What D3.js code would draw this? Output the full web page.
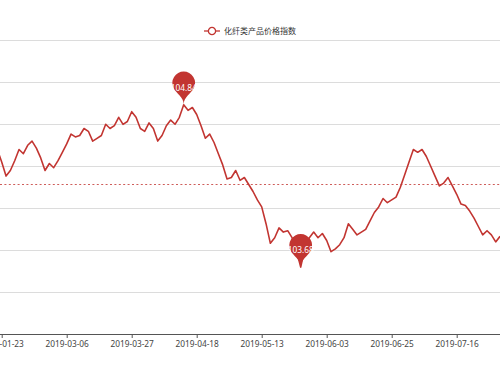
<!DOCTYPE html>
<html>
<head>
<meta charset="utf-8">
<script src="https://cdn.jsdelivr.net/npm/d3@7/dist/d3.min.js"></script>
<style>
  html, body { margin: 0; padding: 0; background: #fff; }
  svg { display: block; }
</style>
</head>
<body>
<div id="chart"></div>
<script>
// series name (legend)
var seriesName = "化纤类产品价格指数";

// daily index values (visible window only)
var values = [
  104.52, 104.43, 104.33, 104.37, 104.44, 104.52, 104.49, 104.55, 104.58, 104.53,
  104.46, 104.37, 104.42, 104.39, 104.44, 104.50, 104.56, 104.63, 104.61, 104.62,
  104.67, 104.65, 104.58, 104.60, 104.62, 104.70, 104.67, 104.69, 104.75, 104.70,
  104.72, 104.79, 104.75, 104.67, 104.65, 104.71, 104.67, 104.58, 104.62, 104.69,
  104.73, 104.70, 104.75, 104.84, 104.80, 104.82, 104.77, 104.69, 104.60, 104.63,
  104.57, 104.49, 104.41, 104.31, 104.32, 104.37, 104.30, 104.32, 104.27, 104.22,
  104.16, 104.11, 103.99, 103.85, 103.89, 103.96, 103.93, 103.94, 103.89, 103.80,
  103.68, 103.82, 103.89, 103.93, 103.89, 103.92, 103.87, 103.79, 103.81, 103.84,
  103.89, 103.99, 103.95, 103.91, 103.93, 103.95, 104.01, 104.07, 104.11, 104.17,
  104.14, 104.16, 104.18, 104.25, 104.34, 104.43, 104.52, 104.50, 104.52, 104.47,
  104.40, 104.33, 104.26, 104.28, 104.32, 104.26, 104.20, 104.13, 104.12, 104.08,
  104.03, 103.97, 103.91, 103.94, 103.91, 103.86, 103.90
];

// x-axis labels and the index of the point each one sits on
var tickLabels = ["2019-01-23", "2019-03-06", "2019-03-27", "2019-04-18",
                  "2019-05-13", "2019-06-03", "2019-06-25", "2019-07-16"];
var tickIndex = [1, 16, 31, 46, 61, 76, 91, 106];

// y-axis split values (labels are outside the visible area)
var yTicks = [103.2, 103.5, 103.8, 104.1, 104.4, 104.7, 105.0, 105.3];

// average mark line value
var avgValue = 104.27;

var W = 500, H = 375;
var red = "#c23531";
var font = "'Noto Sans', 'Microsoft YaHei', sans-serif";

var svg = d3.select("#chart").append("svg")
    .attr("width", W)
    .attr("height", H);

// scales: the plot area runs past both edges of the window
var x = d3.scaleLinear()
    .domain([tickIndex[0], tickIndex[tickIndex.length - 1]])
    .range([1.7, 456.7]);

var y = d3.scaleLinear()
    .domain([yTicks[0], yTicks[yTicks.length - 1]])
    .range([334.3, 40.3]);

// split lines
svg.append("g").selectAll("line")
    .data(yTicks)
    .enter().append("line")
    .attr("x1", 0).attr("x2", W)
    .attr("y1", function(d) { return Math.round(y(d)) + 0.5; })
    .attr("y2", function(d) { return Math.round(y(d)) + 0.5; })
    .attr("stroke", "#dcdcdc")
    .attr("stroke-width", 1);

// x axis
var xAxis = d3.axisBottom(x)
    .tickValues(tickIndex)
    .tickFormat(function(d, i) { return tickLabels[i]; })
    .tickSize(3.5)
    .tickSizeOuter(0)
    .tickPadding(3);

var gx = svg.append("g")
    .attr("transform", "translate(0," + (Math.round(y(yTicks[0])) + 0.5) + ")")
    .call(xAxis);

gx.select(".domain").remove();
gx.append("line")
    .attr("x1", 0).attr("x2", W)
    .attr("stroke", "#555").attr("stroke-width", 1);
gx.selectAll(".tick line").attr("stroke", "#555");
gx.selectAll(".tick text")
    .attr("fill", "#444")
    .style("font-family", font)
    .style("font-size", "8.3px");

// average mark line
svg.append("line")
    .attr("x1", 0).attr("x2", W)
    .attr("y1", y(avgValue)).attr("y2", y(avgValue))
    .attr("stroke", red)
    .attr("stroke-opacity", 0.8)
    .attr("stroke-width", 1)
    .attr("stroke-dasharray", "2,2.4");

// series line
var line = d3.line()
    .x(function(d, i) { return x(i); })
    .y(function(d) { return y(d); });

svg.append("path")
    .datum(values)
    .attr("d", line)
    .attr("fill", "none")
    .attr("stroke", red)
    .attr("stroke-width", 1.6)
    .attr("stroke-linejoin", "round");

// pin marker, same geometry as the echarts 'pin' symbol, tip at (0,0)
function pinPath(size) {
    var w = size / 5 * 3, h = Math.max(w, size), r = w / 2;
    var dy = r * r / (h - r), cy = -h + r + dy;
    var ang = Math.asin(dy / r), dx = Math.cos(ang) * r;
    var tanX = Math.sin(ang), tanY = Math.cos(ang);
    var cp = r * 0.6, cp2 = r * 0.7;
    var p = d3.path();
    p.moveTo(-dx, cy + dy);
    p.arc(0, cy, r, Math.PI - ang, Math.PI * 2 + ang);
    p.bezierCurveTo(dx - tanX * cp, cy + dy + tanY * cp, 0, -cp2, 0, 0);
    p.bezierCurveTo(0, -cp2, -dx + tanX * cp, cy + dy + tanY * cp, -dx, cy + dy);
    p.closePath();
    return { d: p.toString(), labelY: (cy - r) / 2 };
}

var maxI = d3.maxIndex(values), minI = d3.minIndex(values);
var pin = pinPath(38);

var marks = svg.append("g").selectAll("g")
    .data([maxI, minI])
    .enter().append("g")
    .attr("transform", function(i) { return "translate(" + x(i) + "," + y(values[i]) + ")"; });

marks.append("path")
    .attr("d", pin.d)
    .attr("fill", red);

marks.append("text")
    .attr("y", pin.labelY)
    .attr("dy", "0.35em")
    .attr("text-anchor", "middle")
    .attr("fill", "#fff")
    .style("font-family", font)
    .style("font-size", "8.3px")
    .text(function(i) { return values[i].toFixed(2); });

// legend
var legend = svg.append("g").attr("transform", "translate(212,31)");
legend.append("line")
    .attr("x1", -8).attr("x2", 8)
    .attr("stroke", red).attr("stroke-width", 1.3);
legend.append("circle")
    .attr("r", 3.6)
    .attr("fill", "#fff")
    .attr("stroke", red)
    .attr("stroke-width", 1.3);
legend.append("text")
    .attr("x", 12)
    .attr("dy", "0.35em")
    .attr("fill", "#333")
    .style("font-family", "'Noto Sans CJK SC', sans-serif")
    .style("font-size", "8px")
    .text(seriesName);
</script>
</body>
</html>
